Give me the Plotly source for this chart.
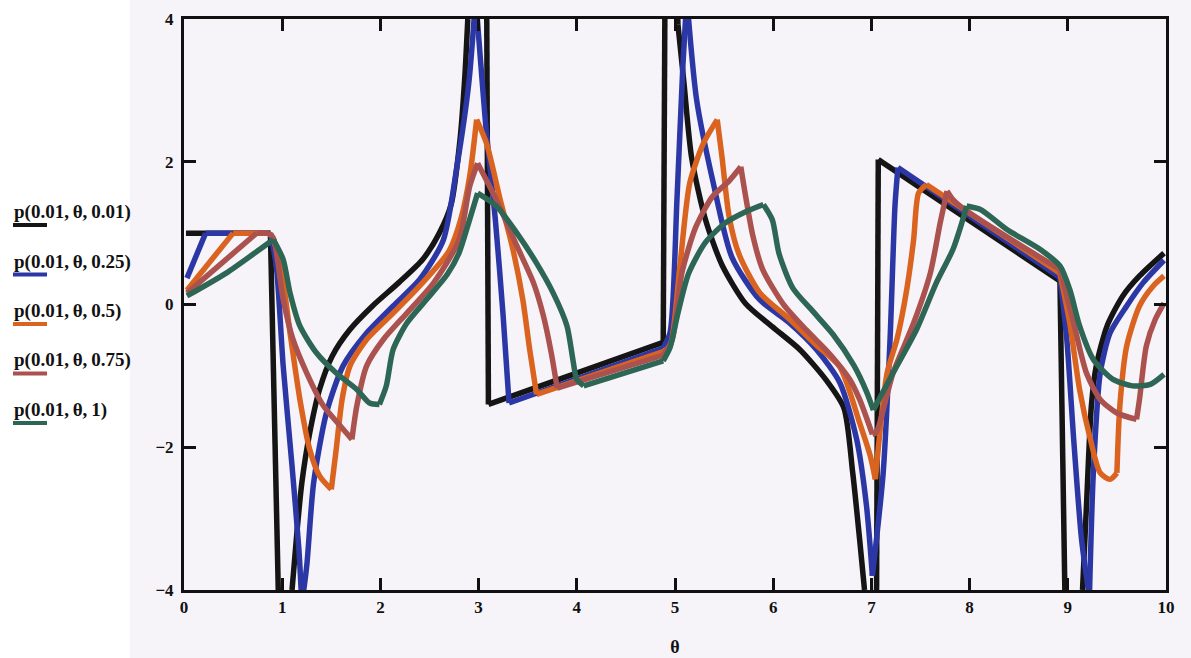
import plotly.graph_objects as go

# ---------------- data ----------------
legend_labels = ["p(0.01,\u2009θ,\u20090.01)", "p(0.01,\u2009θ,\u20090.25)", "p(0.01,\u2009θ,\u20090.5)",
                 "p(0.01,\u2009θ,\u20090.75)", "p(0.01,\u2009θ,\u20091)"]

theta_c001 = [0.02, 0.88, 0.96, 0.98, 1.08, 1.10, 1.15, 1.20, 1.28, 1.38, 1.51, 1.69, 1.92, 2.19,
              2.43, 2.60, 2.72, 2.81, 2.86, 2.89, 2.92, 3.08, 3.10, 4.88, 4.90, 5.01, 5.03, 5.09,
              5.17, 5.31, 5.48, 5.72, 5.99, 6.27, 6.54, 6.72, 6.81, 6.88, 6.93, 6.95, 7.05, 7.07,
              8.92, 8.97, 8.99, 9.13, 9.15, 9.19, 9.24, 9.29, 9.40, 9.56, 9.73, 9.98]
p_c001 = [1.00, 1.00, -4.0, -5.0, -5.0, -4.0, -3.19, -2.50, -1.80, -1.19, -0.72, -0.35, -0.02, 0.31,
          0.63, 1.00, 1.40, 2.30, 3.20, 4.00, 5.0, 5.0, -1.40, -0.53, 5.0, 5.0, 3.92, 3.12,
          2.05, 1.19, 0.55, 0.01, -0.31, -0.63, -1.06, -1.45, -2.36, -3.29, -4.0, -5.0, -5.0, 2.03,
          0.33, -4.0, -5.0, -5.0, -4.0, -2.82, -1.42, -0.86, -0.30, 0.12, 0.40, 0.72]

theta_c025 = [0.03, 0.22, 0.88, 0.94, 1.01, 1.10, 1.17, 1.20, 1.25, 1.32, 1.45, 1.62, 1.86, 2.13,
              2.40, 2.64, 2.78, 2.90, 2.97, 3.08, 3.17, 3.25, 3.31, 4.88, 4.95, 5.02, 5.08, 5.12,
              5.22, 5.39, 5.58, 5.86, 6.16, 6.44, 6.68, 6.85, 6.95, 7.01, 7.12, 7.19, 7.24, 7.27,
              8.92, 8.99, 9.06, 9.14, 9.22, 9.26, 9.33, 9.43, 9.60, 9.77, 9.98]
p_c025 = [0.37, 1.00, 1.00, 0.54, -0.86, -2.26, -3.43, -4.2, -3.66, -2.50, -1.52, -0.86, -0.40, -0.02,
          0.35, 0.90, 1.94, 3.10, 4.3, 2.40, 1.20, -0.16, -1.38, -0.61, -0.39, 1.47, 3.34, 4.3,
          2.87, 1.70, 0.66, 0.07, -0.25, -0.63, -1.10, -1.89, -2.82, -3.8, -2.36, -0.49, 1.38, 1.92,
          0.38, -0.49, -1.89, -3.29, -4.1, -2.36, -0.96, -0.40, -0.02, 0.31, 0.62]

theta_c05 = [0.03, 0.50, 0.86, 0.90, 1.01, 1.08, 1.18, 1.28, 1.38, 1.50, 1.55, 1.61, 1.69, 1.86,
             2.13, 2.40, 2.70, 2.82, 2.91, 2.98, 3.08, 3.22, 3.35, 3.45, 3.52, 3.59, 4.88, 4.95,
             5.05, 5.15, 5.29, 5.43, 5.48, 5.55, 5.65, 5.86, 6.16, 6.44, 6.68, 6.88, 6.99, 7.04,
             7.16, 7.26, 7.36, 7.43, 7.48, 7.56, 8.92, 9.02, 9.12, 9.23, 9.33, 9.43, 9.50, 9.53,
             9.60, 9.73, 9.87, 9.98]
p_c05 = [0.20, 1.00, 1.00, 0.95, 0.30, -0.40, -1.33, -2.03, -2.40, -2.59, -2.03, -1.33, -0.86, -0.49,
         -0.12, 0.26, 0.75, 1.20, 1.80, 2.59, 2.26, 1.47, 0.77, 0.07, -0.63, -1.26, -0.66, -0.58,
         0.54, 1.70, 2.26, 2.59, 2.05, 1.24, 0.71, 0.17, -0.20, -0.57, -0.88, -1.66, -2.13, -2.45,
         -0.96, -0.49, 0.21, 0.91, 1.56, 1.68, 0.44, -0.26, -1.19, -1.89, -2.36, -2.45, -2.36, -1.42,
         -0.58, -0.02, 0.26, 0.40]

theta_c075 = [0.03, 0.74, 0.86, 0.91, 1.01, 1.11, 1.25, 1.42, 1.59, 1.71, 1.76, 1.86, 2.03, 2.27,
              2.54, 2.80, 2.91, 2.99, 3.18, 3.39, 3.56, 3.66, 3.74, 3.80, 4.88, 4.97, 5.07, 5.21,
              5.38, 5.55, 5.67, 5.72, 5.79, 5.89, 6.10, 6.34, 6.58, 6.78, 6.88, 7.01, 7.05, 7.22,
              7.43, 7.60, 7.70, 7.77, 7.83, 7.97, 8.92, 9.06, 9.19, 9.33, 9.50, 9.70, 9.73, 9.80,
              9.89, 9.98]
p_c075 = [0.16, 1.00, 1.00, 0.93, 0.07, -0.49, -0.96, -1.42, -1.70, -1.89, -1.42, -0.86, -0.49, -0.12,
          0.30, 0.90, 1.66, 1.98, 1.47, 0.82, 0.30, -0.16, -0.68, -1.17, -0.71, -0.50, 0.44, 1.08,
          1.51, 1.73, 1.93, 1.51, 0.98, 0.50, 0.01, -0.36, -0.70, -1.05, -1.33, -1.82, -1.79, -0.96,
          -0.26, 0.44, 1.14, 1.59, 1.47, 1.31, 0.49, -0.26, -0.96, -1.33, -1.52, -1.61, -1.33, -0.58,
          -0.21, 0.02]

theta_c1 = [0.03, 0.43, 0.77, 0.91, 1.01, 1.08, 1.18, 1.35, 1.55, 1.76, 1.89, 1.99, 2.06, 2.13,
            2.27, 2.47, 2.68, 2.80, 2.90, 2.99, 3.18, 3.39, 3.59, 3.76, 3.90, 3.96, 4.00, 4.07,
            4.88, 4.95, 5.03, 5.14, 5.31, 5.51, 5.72, 5.90, 5.99, 6.06, 6.20, 6.40, 6.61, 6.82,
            6.95, 7.02, 7.22, 7.46, 7.66, 7.83, 7.92, 7.97, 8.11, 8.38, 8.72, 8.92, 9.02, 9.12,
            9.26, 9.46, 9.66, 9.84, 9.98]
p_c1 = [0.12, 0.44, 0.77, 0.91, 0.63, 0.16, -0.30, -0.68, -0.96, -1.19, -1.38, -1.40, -1.14, -0.63,
        -0.26, 0.07, 0.42, 0.72, 1.15, 1.56, 1.38, 1.00, 0.58, 0.16, -0.30, -0.77, -1.05, -1.14,
        -0.79, -0.60, -0.12, 0.44, 0.87, 1.14, 1.30, 1.40, 1.19, 0.71, 0.23, -0.09, -0.42, -0.85,
        -1.22, -1.48, -0.96, -0.35, 0.30, 0.77, 1.14, 1.38, 1.33, 1.05, 0.77, 0.54, 0.21, -0.30,
        -0.77, -1.05, -1.14, -1.12, -0.98]

series_x = [theta_c001, theta_c025, theta_c05, theta_c075, theta_c1]
series_y = [p_c001, p_c025, p_c05, p_c075, p_c1]

# θ values where each curve has a sharp corner (kept unsmoothed)
corners = [
    [0.88, 0.96, 0.98, 1.08, 1.10, 2.89, 2.92, 3.08, 3.10, 4.88, 4.90, 5.01, 5.03,
     6.93, 6.95, 7.05, 7.07, 8.92, 8.97, 8.99, 9.13, 9.15],
    [0.22, 0.88, 1.20, 2.97, 3.31, 4.88, 5.12, 7.01, 7.27, 8.92, 9.22],
    [0.50, 0.86, 1.50, 2.98, 3.59, 4.88, 5.43, 7.04, 7.56, 8.92, 9.50],
    [0.74, 0.86, 1.71, 2.99, 3.80, 4.88, 5.67, 7.01, 7.77, 8.92, 9.70],
    [0.91, 1.99, 2.99, 4.07, 4.88, 5.90, 7.02, 7.97],
]

# ---------------- styling ----------------
colors = ["#151515", "#2c37a6", "#d9631f", "#ab524f", "#2d6654"]
W, H = 1191, 658
L, R, T, B = 184, 25, 19, 68
pw, ph = W - L - R, H - T - B
serif = "Liberation Serif"
bg = "#f6f4f8"
ink = "#111111"

fig = go.Figure()
for xs, ys, c, name, cs in zip(series_x, series_y, colors, legend_labels, corners):
    cut = [0] + [i for i, v in enumerate(xs) if v in cs] + [len(xs) - 1]
    cut = sorted(set(cut))
    for a, b in zip(cut[:-1], cut[1:]):
        fig.add_trace(go.Scatter(
            x=xs[a:b + 1], y=ys[a:b + 1], mode="lines", name=name, legendgroup=name,
            line=dict(color=c, width=5.5, shape="spline" if b - a > 1 else "linear",
                      smoothing=0.7),
            showlegend=False, hoverinfo="skip"))

def px2paper(px, py):
    return (px - L) / pw, (H - B - py) / ph

annotations = []
shapes = []
# white scan strip on the left
shapes.append(dict(type="rect", xref="paper", yref="paper",
                   x0=px2paper(-20, 0)[0], x1=px2paper(130, 0)[0], y0=-1, y1=2,
                   fillcolor="#ffffff", line=dict(width=0), layer="below"))

for i, (name, c) in enumerate(zip(legend_labels, colors)):
    ty = 212 + i * 49.5
    ax, ay = px2paper(12, ty)
    annotations.append(dict(text="<b>" + name + "</b>", x=ax, y=ay, xref="paper", yref="paper",
                            xanchor="left", yanchor="middle", showarrow=False,
                            font=dict(family=serif, size=19, color=ink)))
    ux0, uy = px2paper(13, ty + 13)
    ux1, _ = px2paper(47, ty + 13)
    shapes.append(dict(type="line", xref="paper", yref="paper", x0=ux0, x1=ux1, y0=uy, y1=uy,
                       line=dict(color=c, width=4)))

axis_common = dict(showline=True, linecolor=ink, linewidth=3, mirror="ticks",
                   ticks="inside", ticklen=12, tickwidth=3, tickcolor=ink,
                   showgrid=False, zeroline=False, automargin=False,
                   tickprefix="<b>", ticksuffix="</b>",
                   tickfont=dict(family=serif, size=17, color=ink))

fig.update_layout(
    width=W, height=H,
    margin=dict(l=L, r=R, t=T, b=B, pad=0, autoexpand=False),
    paper_bgcolor=bg, plot_bgcolor=bg,
    xaxis=dict(range=[0, 10], dtick=1, tick0=0, ticklabelstandoff=0,
               title=dict(text="<b>θ</b>", font=dict(family=serif, size=18, color=ink), standoff=24),
               **axis_common),
    yaxis=dict(range=[-4, 4], dtick=2, tick0=-4, ticklabelstandoff=4, **axis_common),
    annotations=annotations, shapes=shapes,
    font=dict(family=serif),
)

fig.write_html("out.html")
